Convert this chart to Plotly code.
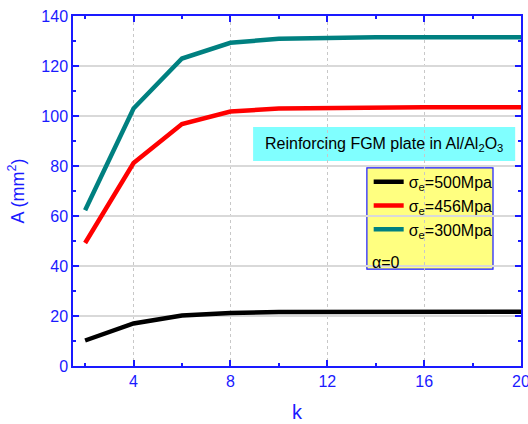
import plotly.graph_objects as go

k = [2, 4, 6, 8, 10, 12, 14, 16, 18, 20]
a_500 = [10.2, 17.0, 20.2, 21.2, 21.6, 21.7, 21.7, 21.7, 21.7, 21.7]
a_456 = [49.2, 81.2, 96.8, 101.8, 103.0, 103.3, 103.5, 103.5, 103.5, 103.5]
a_300 = [62.3, 103.0, 123.0, 129.3, 130.9, 131.3, 131.5, 131.5, 131.5, 131.5]

names = ["σ<sub>e</sub>=500Mpa", "σ<sub>e</sub>=456Mpa", "σ<sub>e</sub>=300Mpa"]
colors = ["#000000", "#FF0000", "#008080"]
series = [a_500, a_456, a_300]

BLUE = "#1a1aff"
FONT = "Liberation Sans, Arial, sans-serif"

fig = go.Figure()
for name, col, ys in zip(names, colors, series):
    fig.add_trace(go.Scatter(x=k, y=ys, mode="lines", name=name,
                             line=dict(color=col, width=4.5)))

axis_common = dict(showline=True, linecolor=BLUE, linewidth=1.5, mirror="ticks",
                   ticks="inside", ticklen=6, tickcolor=BLUE, tickwidth=1.5,
                   tickfont=dict(color=BLUE, size=16, family=FONT),
                   zeroline=False, automargin=False, ticklabeloverflow="allow")

fig.update_layout(
    width=528, height=424,
    margin=dict(l=73, r=7, t=16, b=58),
    paper_bgcolor="white", plot_bgcolor="white",
    font=dict(family=FONT, color="black"),
    xaxis=dict(range=[1.5, 20], tick0=0, dtick=4,
               showgrid=True, gridcolor="#c8c8c8", griddash="3px,3px", gridwidth=1,
               minor=dict(ticks="inside", ticklen=3, tickcolor=BLUE, dtick=2, tick0=0, showgrid=False),
               title=dict(text="k", font=dict(color=BLUE, size=20, family=FONT), standoff=16),
               **axis_common),
    yaxis=dict(range=[0, 140], tick0=0, dtick=20,
               showgrid=True, gridcolor="#d9d9d9", gridwidth=1.5,
               minor=dict(ticks="inside", ticklen=3, tickcolor=BLUE, dtick=10, tick0=0, showgrid=False),
               title=dict(text="A (mm<sup>2</sup>)", font=dict(color=BLUE, size=18, family=FONT), standoff=12),
               **axis_common),
    showlegend=True,
    legend=dict(x=0.66, y=0.575, xanchor="left", yanchor="top",
                bgcolor="rgba(0,0,0,0)", borderwidth=0,
                font=dict(size=16, family=FONT, color="black"),
                tracegroupgap=0, itemwidth=30),
)

# legend background box
fig.add_shape(type="rect", xref="paper", yref="paper",
              x0=0.656, x1=0.9375, y0=0.277, y1=0.566,
              fillcolor="#FFFF80", line=dict(color=BLUE, width=1.2), layer="below")
fig.add_annotation(xref="paper", yref="paper", x=0.662, y=0.297, xanchor="left", yanchor="middle",
                   text="α=0", showarrow=False, font=dict(size=16, family=FONT, color="black"))

# title box
fig.add_shape(type="rect", xref="paper", yref="paper",
              x0=0.402, x1=0.987, y0=0.586, y1=0.683,
              fillcolor="#80FFFF", line=dict(width=0), layer="below")
fig.add_annotation(xref="paper", yref="paper", x=0.694, y=0.634, xanchor="center", yanchor="middle",
                   text="Reinforcing FGM plate in Al/Al<sub>2</sub>O<sub>3</sub>", showarrow=False,
                   font=dict(size=16, family=FONT, color="black"))

fig.write_html("out.html")
